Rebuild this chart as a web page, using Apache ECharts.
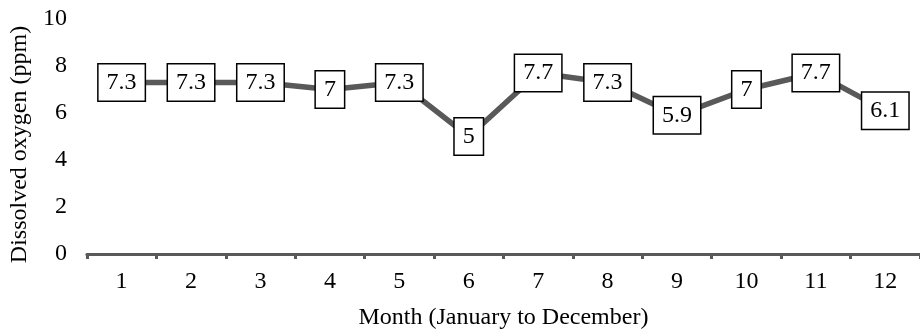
<!DOCTYPE html>
<html>
<head>
<meta charset="utf-8">
<script src="https://cdn.jsdelivr.net/npm/echarts@6/dist/echarts.min.js"></script>
<style>
  html, body { margin: 0; padding: 0; background: #fff; }
</style>
</head>
<body>
<div id="chart" style="width: 920px; height: 335px"></div>
<script>
const months = ["1", "2", "3", "4", "5", "6", "7", "8", "9", "10", "11", "12"];
const oxygen = [7.3, 7.3, 7.3, 7, 7.3, 5, 7.7, 7.3, 5.9, 7, 7.7, 6.1];
const yTicks = { min: 0, max: 10, step: 2 };

const font = "'Liberation Serif', 'Times New Roman', serif";
const chart = echarts.init(document.getElementById("chart"));

const option = {
  animation: false,
  textStyle: { fontFamily: font },
  grid: {
    left: 82,
    right: 0,
    top: 19,
    bottom: 79,
  },
  xAxis: {
    type: "category",
    data: months,
    boundaryGap: true,
    name: "Month (January to December)",
    nameLocation: "middle",
    nameGap: 52,
    nameTextStyle: { fontFamily: font, fontSize: 24, color: "#000" },
    axisLine: { lineStyle: { color: "#595959", width: 3 } },
    axisTick: { show: true, length: 5, lineStyle: { color: "#595959", width: 3 } },
    axisLabel: { fontFamily: font, fontSize: 24, color: "#000", margin: 16 },
    splitLine: { show: false },
  },
  yAxis: {
    type: "value",
    min: yTicks.min,
    max: yTicks.max,
    interval: yTicks.step,
    name: "Dissolved oxygen (ppm)",
    nameLocation: "middle",
    nameGap: 52,
    nameTextStyle: { fontFamily: font, fontSize: 24, color: "#000", padding: [0, 16, 0, 0] },
    axisLine: { show: false },
    axisTick: { show: false },
    axisLabel: { fontFamily: font, fontSize: 24, color: "#000", margin: 20 },
    splitLine: { show: false },
  },
  series: [
    {
      type: "line",
      data: oxygen,
      symbol: "circle",
      symbolSize: 1,
      showSymbol: true,
      itemStyle: { color: "#595959" },
      lineStyle: { color: "#595959", width: 5.5 },
      label: {
        show: true,
        position: "inside",
        fontFamily: font,
        fontSize: 24,
        lineHeight: 24,
        color: "#000",
        backgroundColor: "#fff",
        borderColor: "#000",
        borderWidth: 1.5,
        padding: [6, 8, 6, 8],
      },
    },
  ],
};

chart.setOption(option);
</script>
</body>
</html>
